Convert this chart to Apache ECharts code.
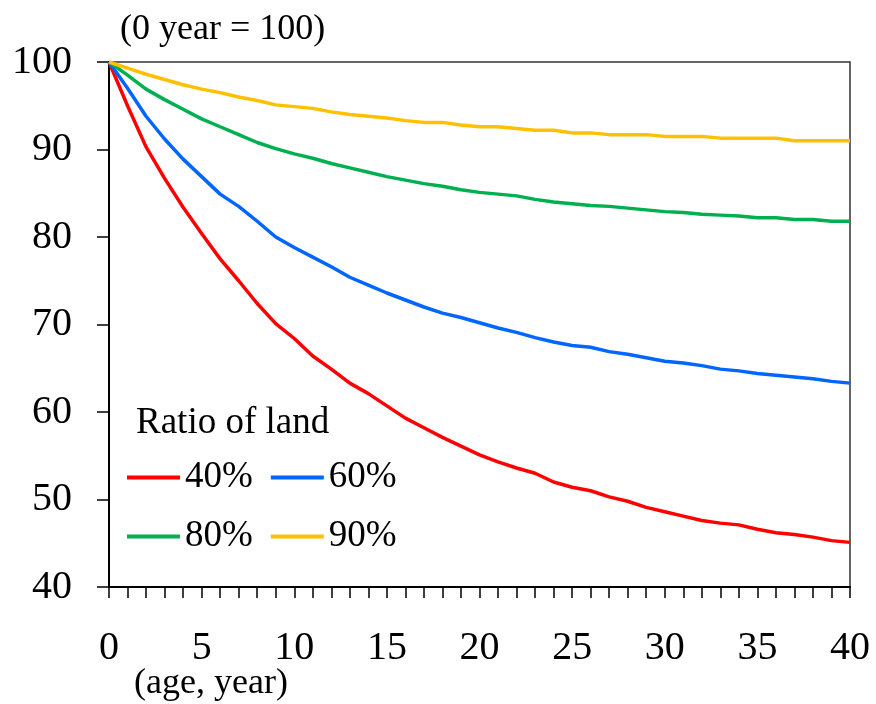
<!DOCTYPE html>
<html>
<head>
<meta charset="utf-8">
<script src="https://cdn.jsdelivr.net/npm/echarts@6/dist/echarts.min.js"></script>
<style>
html,body{margin:0;padding:0;background:#fff;}
#chart{width:876px;height:704px;}
</style>
</head>
<body>
<div id="chart"></div>
<script>
const years = [0,1,2,3,4,5,6,7,8,9,10,11,12,13,14,15,16,17,18,19,20,21,22,23,24,25,26,27,28,29,30,31,32,33,34,35,36,37,38,39,40];
const seriesNames = ['40%','60%','80%','90%'];
const land40 = [100,95.0,90.3,86.7,83.4,80.4,77.5,75.0,72.4,70.1,68.4,66.4,64.9,63.3,62.1,60.7,59.3,58.2,57.1,56.1,55.1,54.3,53.6,53.0,52.0,51.4,51.0,50.3,49.8,49.1,48.6,48.1,47.6,47.3,47.1,46.6,46.2,46.0,45.7,45.3,45.1];
const land60 = [100,97.0,93.8,91.2,88.9,86.9,84.9,83.5,81.8,80.0,78.8,77.7,76.6,75.4,74.5,73.6,72.8,72.0,71.3,70.8,70.2,69.6,69.1,68.5,68.0,67.6,67.4,66.9,66.6,66.2,65.8,65.6,65.3,64.9,64.7,64.4,64.2,64.0,63.8,63.5,63.3];
const land80 = [100,98.5,96.9,95.7,94.6,93.5,92.6,91.7,90.8,90.1,89.5,89.0,88.4,87.9,87.4,86.9,86.5,86.1,85.8,85.4,85.1,84.9,84.7,84.3,84.0,83.8,83.6,83.5,83.3,83.1,82.9,82.8,82.6,82.5,82.4,82.2,82.2,82.0,82.0,81.8,81.8];
const land90 = [100,99.3,98.6,98.0,97.4,96.9,96.5,96.0,95.6,95.1,94.9,94.7,94.3,94.0,93.8,93.6,93.3,93.1,93.1,92.8,92.6,92.6,92.4,92.2,92.2,91.9,91.9,91.7,91.7,91.7,91.5,91.5,91.5,91.3,91.3,91.3,91.3,91.0,91.0,91.0,91.0];
const xLabelStep = 5;
const yTicks = [40,50,60,70,80,90,100];

const colors = ['#FF0000','#0066FF','#00B050','#FFC000'];
const allData = [land40, land60, land80, land90];
const FONT = "'Liberation Serif','Times New Roman',serif";

const chart = echarts.init(document.getElementById('chart'), null, {renderer:'canvas'});
const legendCommon = {
  orient:'horizontal', left:127, padding:0, itemGap:18,
  icon:'rect', itemWidth:53, itemHeight:4,
  textStyle:{fontFamily:FONT, fontSize:37, color:'#000'}
};
chart.setOption({
  animation:false,
  backgroundColor:'#fff',
  grid:{left:109, right:26, top:62, bottom:117, show:true, borderColor:'#333', borderWidth:1.5, containLabel:false},
  xAxis:{
    type:'value', min:0, max:40, interval:1,
    axisLine:{show:true, onZero:false, lineStyle:{color:'#000', width:2}},
    axisTick:{show:true, inside:false, length:11, lineStyle:{color:'#000', width:1.5}},
    splitLine:{show:false},
    axisLabel:{margin:41, fontFamily:FONT, fontSize:40, color:'#000',
      formatter:v => (v % xLabelStep === 0 ? String(v) : '')}
  },
  yAxis:{
    type:'value', min:yTicks[0], max:yTicks[yTicks.length-1], interval:10,
    axisLine:{show:true, onZero:false, lineStyle:{color:'#000', width:2}},
    axisTick:{show:true, inside:false, length:12, lineStyle:{color:'#000', width:1.5}},
    splitLine:{show:false},
    axisLabel:{margin:37, fontFamily:FONT, fontSize:40, color:'#000'}
  },
  legend:[
    Object.assign({}, legendCommon, {top:459, data:[seriesNames[0], seriesNames[1]]}),
    Object.assign({}, legendCommon, {top:518, data:[seriesNames[2], seriesNames[3]]})
  ],
  graphic:[
    {type:'text', left:120, top:12, style:{text:'(0 year = 100)', font:'36px '+FONT, fill:'#000'}},
    {type:'text', left:136, top:405, style:{text:'Ratio of land', font:'37px '+FONT, fill:'#000'}},
    {type:'text', left:134, top:666, style:{text:'(age, year)', font:'36px '+FONT, fill:'#000'}}
  ],
  series: seriesNames.map((name,i)=>({
    name, type:'line', symbol:'none', smooth:false,
    data: years.map((y,j)=>[y, allData[i][j]]),
    lineStyle:{color:colors[i], width:3.5},
    itemStyle:{color:colors[i]}
  }))
});
</script>
</body>
</html>
